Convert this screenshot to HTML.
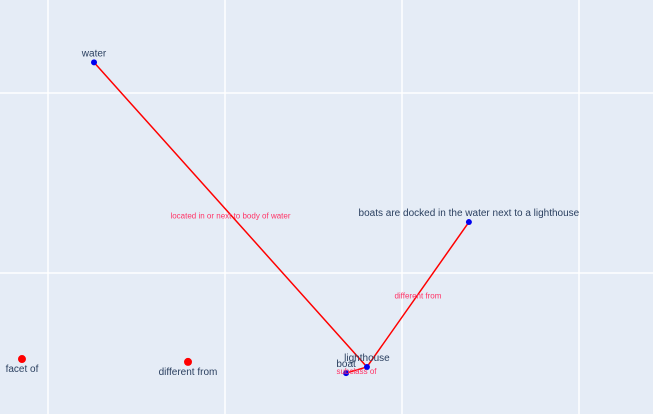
<!DOCTYPE html>
<html><head><meta charset="utf-8"><style>
body{margin:0;background:#fff}
svg{display:block;font-family:"Liberation Sans",sans-serif}
</style></head><body>
<svg id="chart" width="653" height="414"></svg>
<script>
const nodeNames=["water","boat","lighthouse","boats are docked in the water next to a lighthouse"];
const nodeX=[0.26,1.684,1.802,2.378];
const nodeY=[2.17,0.444,0.478,1.283];
const edgeFrom=[0,1,2];
const edgeTo=[2,2,3];
const edgeLabels=["located in or next to body of water","subclass of","different from"];
const relNames=["facet of","different from"];
const relX=[-0.147,0.791];
const relY=[0.522,0.506];
const xTicks=[0,1,2,3];
const yTicks=[1,2];
const sx=v=>48+v*177;
const sy=v=>273-(v-1)*180;
const NS="http://www.w3.org/2000/svg";
const svg=document.getElementById('chart');
function mk(t,a,p){const e=document.createElementNS(NS,t);for(const k in a)e.setAttribute(k,a[k]);(p||svg).appendChild(e);return e;}
const bg=mk('rect',{x:0,y:0,width:653,height:414,fill:'#e5ecf6'});


xTicks.forEach(t=>{const l=mk('line',{x1:sx(t),x2:sx(t),y1:0,y2:414,stroke:'#fff','stroke-width':1.5});

});
yTicks.forEach(t=>{const l=mk('line',{x1:0,x2:653,y1:sy(t),y2:sy(t),stroke:'#fff','stroke-width':1.5});

});
edgeFrom.forEach((f,i)=>{const t=edgeTo[i];
const l=mk('line',{x1:sx(nodeX[f]),y1:sy(nodeY[f]),x2:sx(nodeX[t]),y2:sy(nodeY[t]),stroke:'#ff0000','stroke-width':1.5});

});
nodeNames.forEach((n,i)=>{const c=mk('circle',{cx:sx(nodeX[i]),cy:sy(nodeY[i]),r:3,fill:'#0000ee'});


const tx=mk('text',{x:sx(nodeX[i]),y:sy(nodeY[i])-6,'text-anchor':'middle','font-size':10,fill:'#2a3f5f'});tx.textContent=n;

});
edgeFrom.forEach((f,i)=>{const t=edgeTo[i];
const mx=(sx(nodeX[f])+sx(nodeX[t]))/2,my=(sy(nodeY[f])+sy(nodeY[t]))/2;
const tx=mk('text',{x:mx,y:my+4,'text-anchor':'middle','font-size':8,fill:'#ff3366'});tx.textContent=edgeLabels[i];

});
relNames.forEach((n,i)=>{const c=mk('circle',{cx:sx(relX[i]),cy:sy(relY[i]),r:4,fill:'#ff0000'});


const tx=mk('text',{x:sx(relX[i]),y:sy(relY[i])+13,'text-anchor':'middle','font-size':10,fill:'#2a3f5f'});tx.textContent=n;

});
</script>
</body></html>
